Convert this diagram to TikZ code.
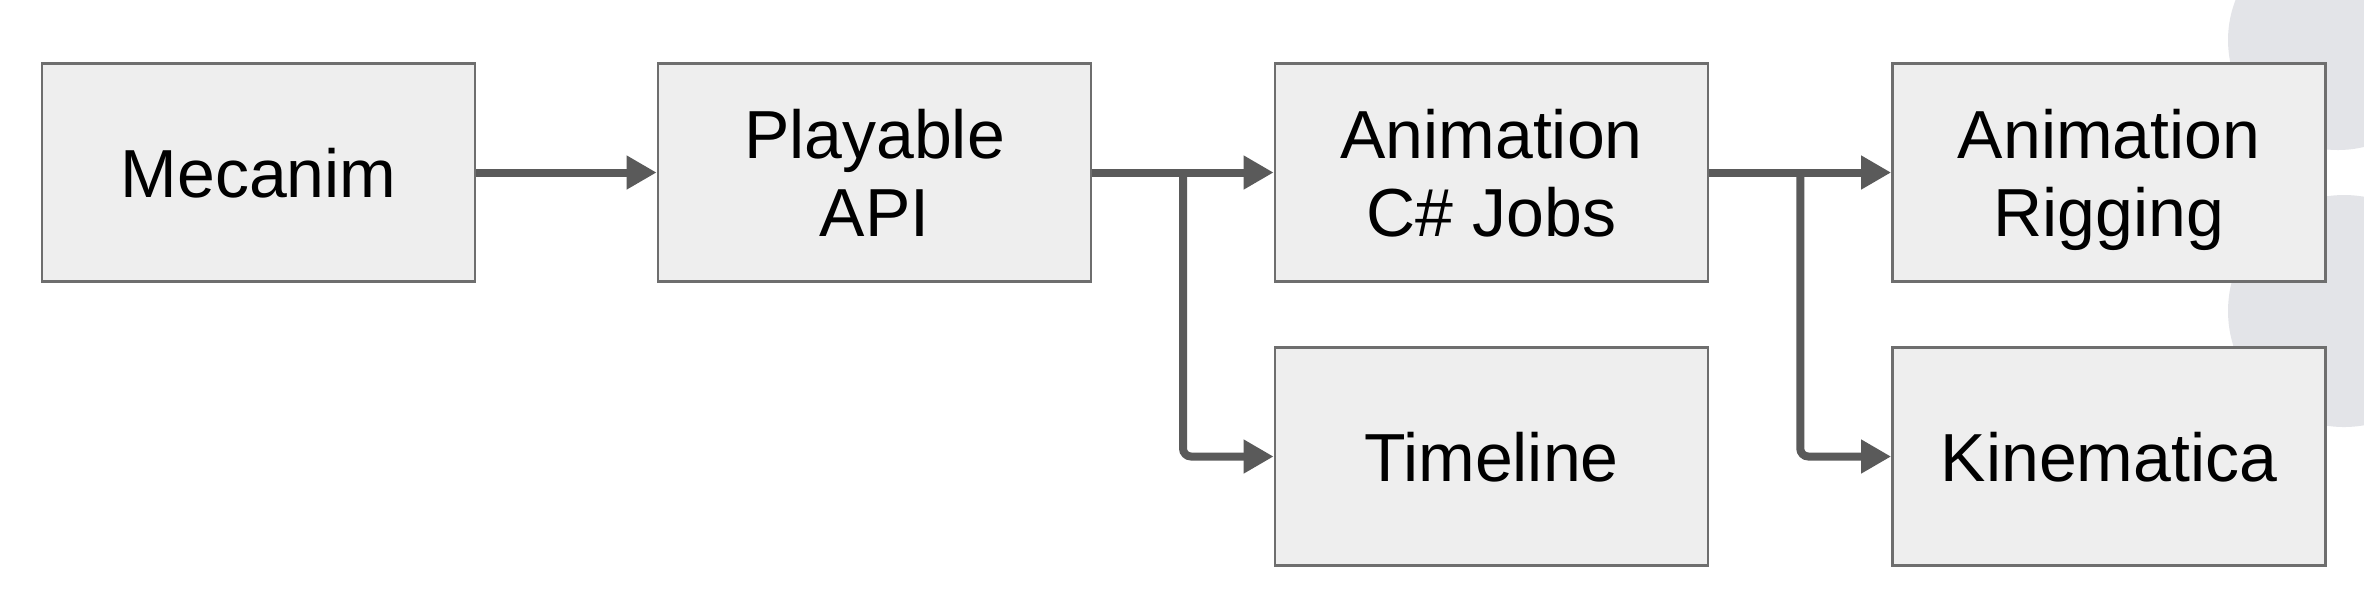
\documentclass[tikz,border=0pt]{standalone}
\usepackage{fontspec}
\setmainfont{Liberation Sans}
\usetikzlibrary{arrows.meta,calc}
\definecolor{boxfill}{HTML}{EEEEEE}
\definecolor{boxline}{HTML}{6E6E6E}
\definecolor{arrowcol}{HTML}{5A5A5A}
\definecolor{decor}{HTML}{E3E4E8}
\tikzset{
  block/.style={draw=boxline, fill=boxfill, line width=0.7pt,
    minimum width=108.25pt, minimum height=54.5pt, inner sep=0pt,
    align=center, font=\fontsize{17}{19.5}\selectfont, text=black,
    text depth=0pt},
  arr/.style={draw=arrowcol, line width=2pt, rounded corners=2pt,
    -{Triangle[length=7.5pt,width=8pt]}}
}
\begin{document}
\begin{tikzpicture}[x=0.25pt,y=-0.25pt]
\path[use as bounding box, fill=white] (0,0) rectangle (2364,604);
\begin{scope}
\clip (0,0) rectangle (2364,604);
\fill[decor] (2338,40) circle[radius=110];
\fill[decor] (2344,311) circle[radius=116];
\end{scope}
\node[block] (mec)  at (258.5,172.5) {Mecanim};
\node[block] (play) at (874.5,172.5) {Playable\\API};
\node[block] (jobs) at (1491.5,172.5) {Animation\\C\# Jobs};
\node[block] (rig)  at (2109,172.5) {Animation\\Rigging};
\node[block] (time) at (1491.5,456.5) {Timeline};
\node[block] (kin)  at (2109,456.5) {Kinematica};
\coordinate (b1) at ($(play.east)!0.5!(jobs.west)$);
\coordinate (b2) at ($(jobs.east)!0.5!(rig.west)$);
\draw[arr] (mec.east) -- (play.west);
\draw[arr] (play.east) -- (jobs.west);
\draw[arr] (b1) |- (time.west);
\draw[arr] (jobs.east) -- (rig.west);
\draw[arr] (b2) |- (kin.west);
\end{tikzpicture}
\end{document}
